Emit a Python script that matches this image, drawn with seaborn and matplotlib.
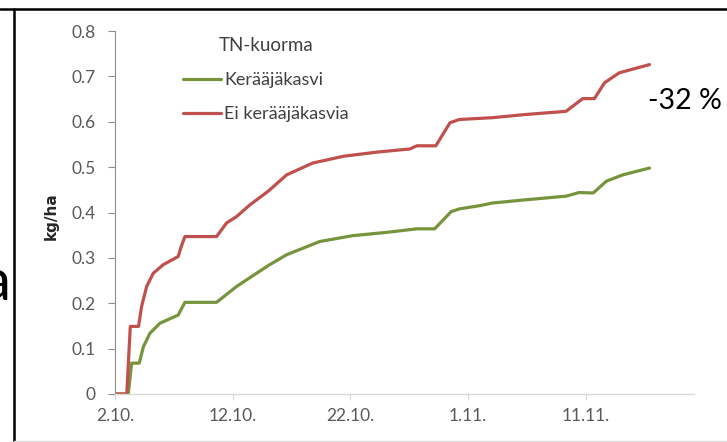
import numpy as np
import pandas as pd
import matplotlib as mpl
import matplotlib.pyplot as plt
from matplotlib.lines import Line2D
import seaborn as sns
sns.set_style('white')
plt.rcParams['font.family'] = ['Lato', 'DejaVu Sans']

# days counted from 2.10.
red_days = [0, 1.0, 1.3, 2.0, 2.26, 2.69, 3.25, 4.1, 5.37, 5.63, 5.94, 8.63, 9.48,
            10.33, 11.47, 13.02, 14.59, 16.8, 19.42, 22.23, 25.05, 25.65, 27.26,
            28.47, 29.27, 32.09, 34.91, 38.33, 39.74, 40.74, 41.6, 42.86, 45.42]
red_vals = [0, 0, 0.149, 0.149, 0.193, 0.237, 0.266, 0.285, 0.303, 0.325, 0.347, 0.347, 0.377,
            0.391, 0.417, 0.447, 0.483, 0.509, 0.524, 0.533, 0.540, 0.547, 0.547,
            0.598, 0.605, 0.609, 0.616, 0.623, 0.651, 0.651, 0.686, 0.708, 0.726]

green_days = [0, 1.13, 1.41, 2.06, 2.41, 2.97, 3.82, 5.37, 5.94, 8.63, 10.33, 13.02,
              14.59, 17.4, 20.2, 23.0, 25.65, 27.16, 28.57, 29.27, 30.98, 32.09, 34.91,
              38.33, 39.43, 40.64, 41.75, 43.16, 45.42]
green_vals = [0, 0, 0.068, 0.068, 0.104, 0.134, 0.156, 0.174, 0.202, 0.202, 0.237, 0.283,
              0.307, 0.336, 0.349, 0.356, 0.364, 0.364, 0.402, 0.408, 0.415, 0.421, 0.428,
              0.436, 0.444, 0.443, 0.469, 0.483, 0.498]

series_names = ['Kerääjäkasvi', 'Ei kerääjäkasvia']
tick_days = [0, 10, 20, 30, 40]
tick_labels = ['2.10.', '12.10.', '22.10.', '1.11.', '11.11.']

df = pd.concat([
    pd.DataFrame({'day': green_days, 'kg': green_vals, 'sarja': series_names[0]}),
    pd.DataFrame({'day': red_days, 'kg': red_vals, 'sarja': series_names[1]}),
])

fig = plt.figure(figsize=(7.27, 4.42), dpi=100)
ax = fig.add_axes([115/727, 1 - 394/442, 579/727, 363/442])

sns.lineplot(data=df, x='day', y='kg', hue='sarja', hue_order=series_names,
             palette=['#77933C', '#C0504D'], linewidth=2.3, ax=ax, legend=False)

ax.set_xlim(0, 49.2)
ax.set_ylim(0, 0.8)
ax.set_yticks(np.arange(0, 0.81, 0.1))
ax.set_yticklabels(['0'] + ['%.1f' % v for v in np.arange(0.1, 0.81, 0.1)])
ax.set_xticks(tick_days)
ax.set_xticklabels(tick_labels)
ax.set_xlabel('')
ax.set_ylabel('kg/ha', fontsize=11, fontweight='bold', family=['DejaVu Sans'])
ax.yaxis.set_label_coords(-0.098, 0.49)

sns.despine(ax=ax)
ax.spines['left'].set_color('#8C8C8C')
ax.spines['bottom'].set_color('#D9D9D9')
ax.spines['left'].set_linewidth(0.8)
ax.spines['bottom'].set_linewidth(1.0)
ax.tick_params(axis='y', which='major', direction='out', length=5, width=0.8,
               color='#8C8C8C', labelsize=12.5, labelcolor='#595959', pad=9, left=True)
ax.tick_params(axis='x', which='major', direction='out', length=4, width=0.8,
               color='#D9D9D9', labelsize=12.5, labelcolor='#595959', pad=6, bottom=True)

handles = [Line2D([], [], color='#77933C', lw=2.3), Line2D([], [], color='#C0504D', lw=2.3)]
leg = ax.legend(handles, series_names, title='TN-kuorma', frameon=False,
                loc='upper left', bbox_to_anchor=(174/727, 1 - 28/442),
                bbox_transform=fig.transFigure, borderpad=0, fontsize=13,
                title_fontsize=13.5, handlelength=2.1, handletextpad=0.17,
                labelspacing=1.0)
for t in leg.get_texts():
    t.set_color('#404040')
leg.get_title().set_color('#404040')

fig.text(648/727, 1 - 101/442, '-32 %', fontsize=20.5, color='black',
         ha='left', va='center')
fig.text(10/727, 1 - 300/442, 'a', fontsize=42, color='black', ha='right', va='baseline')

# slide frame around the chart
fig.add_artist(Line2D([0, 1], [1 - 9/442, 1 - 9/442], transform=fig.transFigure,
                      color='black', lw=1.8))
fig.add_artist(Line2D([14/727, 14/727], [0, 1 - 9/442], transform=fig.transFigure,
                      color='black', lw=1.8))
fig.add_artist(Line2D([14/727, 1], [1 - 441/442, 1 - 441/442], transform=fig.transFigure,
                      color='#DDDDDD', lw=1))

fig.savefig('out.png', dpi=100)
